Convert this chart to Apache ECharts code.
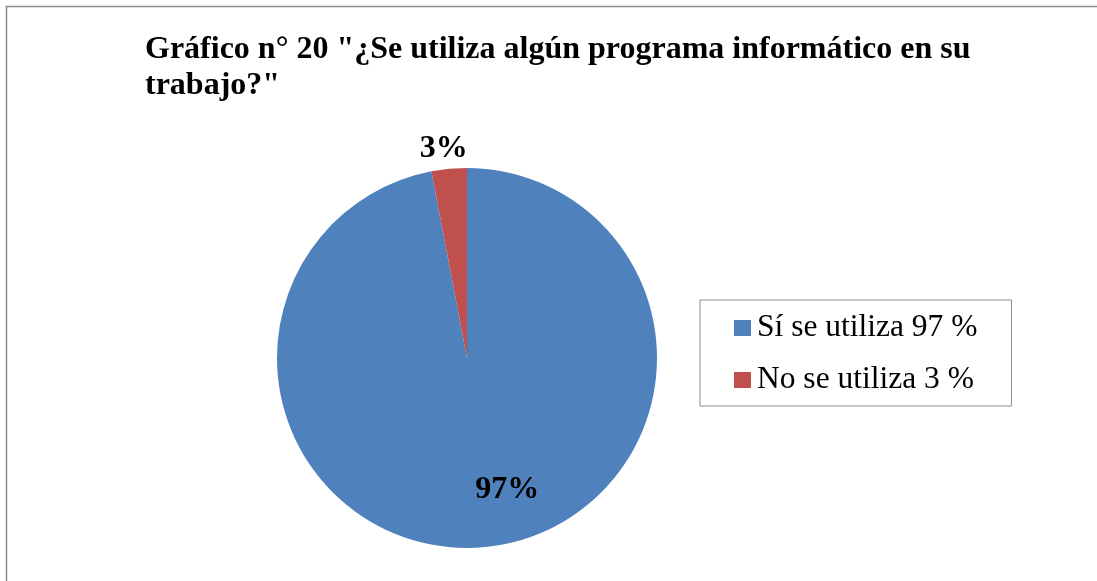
<!DOCTYPE html>
<html>
<head>
<meta charset="utf-8">
<script src="https://cdn.jsdelivr.net/npm/echarts@6/dist/echarts.min.js"></script>
<style>
  html, body { margin: 0; padding: 0; background: #fff; }
  #main { width: 1097px; height: 581px; }
</style>
</head>
<body>
<div id="main"></div>
<script>
// datos del gráfico
var categorias = ['Sí se utiliza 97 %', 'No se utiliza 3 %'];
var valores = [97, 3];
var colores = ['#4F81BD', '#C0504D'];

var serif = '"Liberation Serif", "Times New Roman", serif';

var datos = [];
for (var i = 0; i < categorias.length; i++) {
    datos.push({ name: categorias[i], value: valores[i], itemStyle: { color: colores[i] } });
}
// posición de las etiquetas (como en la imagen)
datos[0].label = { offset: [31, 34] };
datos[1].label = { offset: [-14, -112] };

var myChart = echarts.init(document.getElementById('main'));
var option = {
    backgroundColor: '#fff',
    animation: false,
    title: {
        text: 'Gráfico n° 20 "¿Se utiliza algún programa informático en su\ntrabajo?"',
        left: 145,
        top: 32,
        padding: 0,
        textStyle: {
            fontFamily: serif,
            fontWeight: 'bold',
            fontSize: 32,
            lineHeight: 36,
            color: '#000'
        }
    },
    legend: {
        orient: 'vertical',
        left: 700,
        top: 300,
        data: categorias,
        icon: 'rect',
        itemWidth: 17,
        itemHeight: 16,
        itemGap: 20,
        padding: [12, 34, 10, 34],
        borderColor: '#8c8c8c',
        borderWidth: 1,
        textStyle: {
            fontFamily: serif,
            fontSize: 31.5,
            color: '#000',
            padding: [0, 0, 0, 1]
        }
    },
    graphic: [{
        type: 'rect',
        shape: { x: 6.5, y: 6.5, width: 1200, height: 700 },
        style: { fill: 'none', stroke: '#8c8c8c', lineWidth: 1.5 },
        silent: true
    }],
    series: [{
        name: 'programa',
        type: 'pie',
        center: [467, 358],
        radius: 190,
        startAngle: 90,
        clockwise: true,
        data: datos,
        itemStyle: { borderWidth: 0 },
        label: {
            show: true,
            position: 'inside',
            formatter: '{c}%',
            fontFamily: serif,
            fontWeight: 'bold',
            fontSize: 32,
            color: '#000'
        },
        labelLine: { show: false },
        emphasis: { disabled: true }
    }]
};
myChart.setOption(option);
</script>
</body>
</html>
